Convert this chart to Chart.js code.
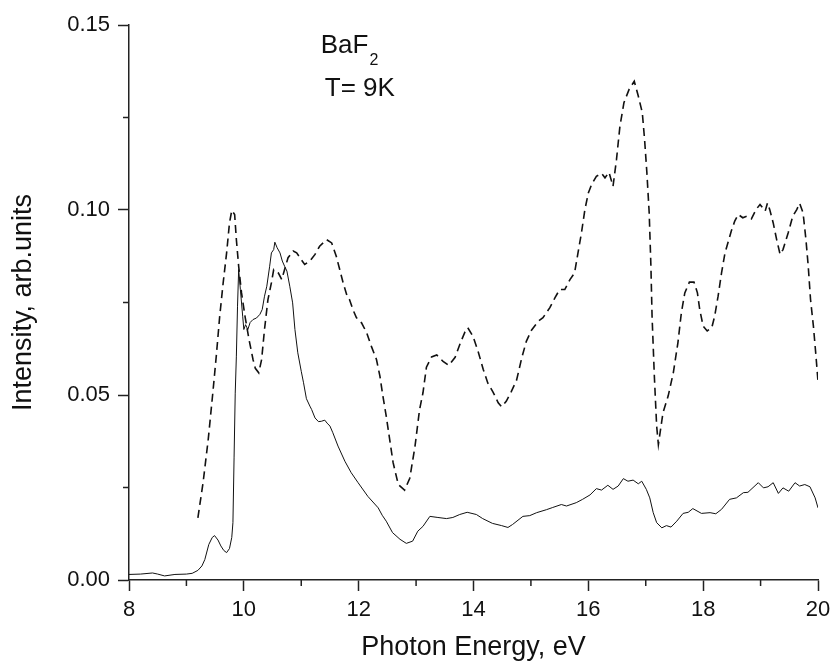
<!DOCTYPE html>
<html>
<head>
<meta charset="utf-8">
<script src="https://cdn.jsdelivr.net/npm/chart.js@4.4.1/dist/chart.umd.min.js"></script>
<style>
  body { margin: 0; background: #fff; }
  #wrap { width: 832px; height: 664px; position: relative; }
</style>
</head>
<body>
<div id="wrap"><canvas id="chart"></canvas></div>
<script>
// axis ticks
const xTicks = [8, 10, 12, 14, 16, 18, 20];
const xMinorTicks = [9, 11, 13, 15, 17, 19];
const yTicks = [0, 0.05, 0.10, 0.15];
const yMinorTicks = [0.025, 0.075, 0.125];

// solid curve
const solidEnergy = [
  8.0, 8.2, 8.41, 8.5, 8.62, 8.8, 9.0, 9.1, 9.2, 9.27, 9.32, 9.39, 9.45, 9.49, 9.55, 9.6, 9.65, 9.7, 9.75, 9.79,
  9.81, 9.83, 9.85, 9.87, 9.89, 9.91, 9.94, 9.98, 10.0, 10.03, 10.07, 10.11, 10.16, 10.22, 10.28, 10.32, 10.36, 10.4, 10.45, 10.48,
  10.52, 10.54, 10.58, 10.63, 10.67, 10.71, 10.75, 10.8, 10.85, 10.89, 10.94, 11.0, 11.04, 11.09, 11.15, 11.18, 11.24, 11.3, 11.35, 11.41,
  11.45, 11.5, 11.55, 11.64, 11.76, 11.87, 11.99, 12.16, 12.34, 12.41, 12.48, 12.59, 12.72, 12.83, 12.94, 13.03, 13.12, 13.24, 13.38, 13.53,
  13.64, 13.76, 13.89, 14.05, 14.16, 14.33, 14.49, 14.6, 14.68, 14.86, 14.98, 15.1, 15.27, 15.38, 15.53, 15.62, 15.79, 15.9, 16.03, 16.14,
  16.23, 16.34, 16.43, 16.52, 16.61, 16.69, 16.78, 16.87, 16.93, 17.01, 17.07, 17.13, 17.19, 17.28, 17.36, 17.44, 17.54, 17.65, 17.74, 17.82,
  17.97, 18.12, 18.22, 18.32, 18.46, 18.58, 18.7, 18.78, 18.96, 19.05, 19.13, 19.22, 19.31, 19.39, 19.49, 19.6, 19.68, 19.77, 19.86, 19.95, 20.0
];
const solidIntensity = [
  0.0015, 0.0016, 0.0019, 0.0016, 0.0011, 0.0015, 0.0016, 0.0018, 0.0026, 0.0038, 0.0055, 0.0096, 0.0115, 0.012, 0.0108, 0.0092, 0.008, 0.0074, 0.0085, 0.0115,
  0.0155, 0.033, 0.0505, 0.0605, 0.074, 0.0839, 0.0785, 0.0713, 0.0677, 0.069, 0.0677, 0.0696, 0.0704, 0.0708, 0.0718, 0.0731, 0.0767, 0.0794, 0.0848, 0.0884,
  0.0893, 0.0913, 0.0898, 0.0884, 0.0862, 0.0848, 0.0835, 0.0794, 0.0749, 0.0677, 0.0614, 0.0564, 0.0533, 0.049, 0.047, 0.0461, 0.0438, 0.0428, 0.0429, 0.0432,
  0.0424, 0.0416, 0.0398, 0.0362, 0.0321, 0.029, 0.0263, 0.0226, 0.0195, 0.0175, 0.0159, 0.0128, 0.011, 0.0099, 0.0105, 0.0132, 0.0145, 0.0172, 0.0169, 0.0166,
  0.0169, 0.0177, 0.0183, 0.0177, 0.0166, 0.0153, 0.0147, 0.0142, 0.015, 0.0172, 0.0174, 0.0182, 0.019, 0.0196, 0.0204, 0.02, 0.0209, 0.0218, 0.023, 0.0247,
  0.0243, 0.0256, 0.0245, 0.0254, 0.0274, 0.0267, 0.027, 0.026, 0.0267, 0.0245, 0.0222, 0.0182, 0.0155, 0.0141, 0.0147, 0.0143, 0.0159, 0.018, 0.0183, 0.0193,
  0.018, 0.0182, 0.0179, 0.0191, 0.0218, 0.0222, 0.0236, 0.0237, 0.0263, 0.0249, 0.0252, 0.0263, 0.0234, 0.0249, 0.024, 0.0263, 0.0254, 0.0258, 0.0252, 0.0222, 0.0195
];

// dashed curve
const dashedEnergy = [
  9.2, 9.29, 9.38, 9.46, 9.52, 9.58, 9.64, 9.7, 9.75, 9.79, 9.84, 9.87, 9.91, 9.96, 10.02, 10.09, 10.16, 10.2, 10.26, 10.31,
  10.36, 10.42, 10.48, 10.52, 10.6, 10.66, 10.71, 10.77, 10.86, 10.92, 11.0, 11.06, 11.15, 11.24, 11.32, 11.44, 11.53, 11.61, 11.67, 11.73,
  11.79, 11.84, 11.9, 11.96, 12.05, 12.14, 12.22, 12.31, 12.37, 12.42, 12.48, 12.54, 12.6, 12.69, 12.8, 12.89, 12.98, 13.06, 13.12, 13.18,
  13.27, 13.36, 13.47, 13.57, 13.68, 13.77, 13.85, 13.9, 13.99, 14.08, 14.17, 14.25, 14.34, 14.43, 14.49, 14.57, 14.66, 14.75, 14.84, 14.92,
  15.01, 15.13, 15.21, 15.33, 15.42, 15.5, 15.59, 15.68, 15.76, 15.82, 15.88, 15.94, 16.0, 16.06, 16.14, 16.23, 16.29, 16.36, 16.43, 16.49,
  16.55, 16.62, 16.71, 16.8, 16.87, 16.94, 16.98, 17.02, 17.06, 17.09, 17.11, 17.15, 17.19, 17.22, 17.3, 17.39, 17.48, 17.56, 17.62, 17.68,
  17.76, 17.84, 17.9, 17.94, 18.0, 18.07, 18.15, 18.2, 18.26, 18.32, 18.38, 18.44, 18.49, 18.55, 18.61, 18.69, 18.76, 18.84, 18.92, 18.99,
  19.08, 19.12, 19.16, 19.22, 19.28, 19.34, 19.39, 19.48, 19.56, 19.63, 19.68, 19.74, 19.79, 19.83, 19.87, 19.92, 19.96, 20.0
];
const dashedIntensity = [
  0.0168, 0.0263, 0.038, 0.0506, 0.0605, 0.0713, 0.0803, 0.0884, 0.0965, 0.0999, 0.0988, 0.092, 0.0848, 0.0776, 0.0713, 0.065, 0.0596, 0.0572, 0.056, 0.0596,
  0.0677, 0.0758, 0.0803, 0.0839, 0.083, 0.0812, 0.0839, 0.0871, 0.0889, 0.0884, 0.0866, 0.0853, 0.0862, 0.088, 0.0902, 0.092, 0.0911, 0.0875, 0.0839, 0.0803,
  0.0772, 0.0758, 0.0731, 0.0709, 0.0695, 0.0668, 0.0632, 0.0596, 0.0551, 0.0499, 0.0443, 0.038, 0.0317, 0.0258, 0.0243, 0.0275, 0.036, 0.046, 0.0506, 0.0575,
  0.0603, 0.0608, 0.0591, 0.058, 0.0602, 0.064, 0.067, 0.0682, 0.0659, 0.0618, 0.0569, 0.0532, 0.0508, 0.0479, 0.0468, 0.0483, 0.051, 0.054, 0.06, 0.0645,
  0.0675, 0.07, 0.0709, 0.0736, 0.0763, 0.0785, 0.0785, 0.0812, 0.083, 0.0884, 0.0938, 0.1001, 0.1046, 0.107, 0.1091, 0.1099, 0.1087, 0.1102, 0.1064, 0.1136,
  0.1226, 0.129, 0.1326, 0.1348, 0.1308, 0.1263, 0.119, 0.11, 0.0992, 0.0848, 0.0713, 0.055, 0.0416, 0.0366, 0.0452, 0.0497, 0.056, 0.0641, 0.0722, 0.0776,
  0.0805, 0.0805, 0.0776, 0.0731, 0.0686, 0.0673, 0.0682, 0.0713, 0.0767, 0.083, 0.0884, 0.0916, 0.0943, 0.097, 0.0988, 0.0979, 0.0983, 0.0976, 0.1001, 0.1015,
  0.0997, 0.1019, 0.1001, 0.0965, 0.092, 0.088, 0.0893, 0.0938, 0.0983, 0.1001, 0.1018, 0.0992, 0.092, 0.0848, 0.0758, 0.0686, 0.0614, 0.0537
];

const FONT = "'Liberation Sans', Arial, sans-serif";
const AXIS = '#222';

function toPoints(xs, ys) {
    return xs.map((x, i) => ({ x: x, y: ys[i] }));
}

// short ticks between the labelled ones + the BaF2 / T= 9K note
const extras = {
    id: 'extras',
    afterDraw(chart) {
        const ctx = chart.ctx;
        const xs = chart.scales.x;
        const ys = chart.scales.y;
        const area = chart.chartArea;
        ctx.save();
        ctx.strokeStyle = AXIS;
        ctx.lineWidth = 1.5;
        ctx.beginPath();
        xMinorTicks.forEach(v => {
            const px = xs.getPixelForValue(v);
            ctx.moveTo(px, area.bottom);
            ctx.lineTo(px, area.bottom + 6);
        });
        yMinorTicks.forEach(v => {
            const py = ys.getPixelForValue(v);
            ctx.moveTo(area.left, py);
            ctx.lineTo(area.left - 6, py);
        });
        ctx.stroke();

        ctx.fillStyle = '#111';
        ctx.textBaseline = 'alphabetic';
        ctx.textAlign = 'left';
        ctx.font = '26px ' + FONT;
        const bx = xs.getPixelForValue(11.34);
        const by = ys.getPixelForValue(0.1423);
        ctx.fillText('BaF', bx, by);
        const w = ctx.measureText('BaF').width;
        ctx.font = '16px ' + FONT;
        ctx.fillText('2', bx + w + 1, by + 12);
        ctx.font = '26px ' + FONT;
        ctx.fillText('T= 9K', xs.getPixelForValue(11.41), ys.getPixelForValue(0.1307));
        ctx.restore();
    }
};

new Chart(document.getElementById('chart'), {
    type: 'line',
    data: {
        datasets: [
            {
                label: 'solid',
                data: toPoints(solidEnergy, solidIntensity),
                borderColor: '#111',
                borderWidth: 1,
                pointRadius: 0,
                tension: 0,
                fill: false
            },
            {
                label: 'dashed',
                data: toPoints(dashedEnergy, dashedIntensity),
                borderColor: '#111',
                borderWidth: 1.6,
                borderDash: [8, 5],
                pointRadius: 0,
                tension: 0,
                fill: false
            }
        ]
    },
    options: {
        responsive: true,
        maintainAspectRatio: false,
        animation: false,
        layout: { padding: { left: 0, right: 14, top: 25, bottom: 0 } },
        plugins: {
            legend: { display: false },
            tooltip: { enabled: false }
        },
        scales: {
            x: {
                type: 'linear',
                min: 8,
                max: 20,
                afterBuildTicks: scale => { scale.ticks = xTicks.map(v => ({ value: v })); },
                afterFit: scale => {
                    scale.height = 84;
                    scale.paddingLeft = 0;
                    scale.paddingRight = 0;
                },
                border: { display: true, color: AXIS, width: 1.5 },
                grid: { drawOnChartArea: false, drawTicks: true, tickLength: 11, tickColor: AXIS, tickWidth: 1.5 },
                ticks: { color: '#111', font: { family: FONT, size: 22 }, padding: 6, maxRotation: 0 },
                title: { display: true, text: 'Photon Energy, eV', color: '#111', font: { family: FONT, size: 27 }, padding: 0 }
            },
            y: {
                type: 'linear',
                min: 0,
                max: 0.15,
                afterBuildTicks: scale => { scale.ticks = yTicks.map(v => ({ value: v })); },
                afterFit: scale => {
                    scale.width = 129;
                    scale.paddingTop = 0;
                    scale.paddingBottom = 0;
                },
                border: { display: true, color: AXIS, width: 1.5 },
                grid: { drawOnChartArea: false, drawTicks: true, tickLength: 11, tickColor: AXIS, tickWidth: 1.5 },
                ticks: { color: '#111', font: { family: FONT, size: 22 }, padding: 8, callback: v => v.toFixed(2) },
                title: { display: true, text: 'Intensity, arb.units', color: '#111', font: { family: FONT, size: 27 }, padding: { top: 7, bottom: 0 } }
            }
        }
    },
    plugins: [extras]
});
</script>
</body>
</html>
